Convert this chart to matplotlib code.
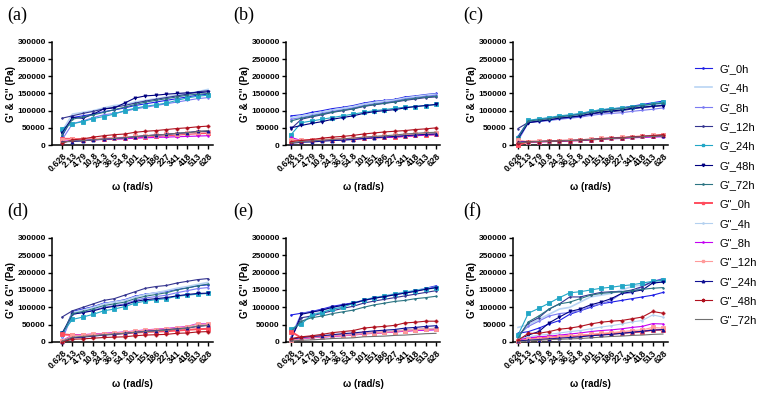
import matplotlib
matplotlib.use("Agg")
import matplotlib.pyplot as plt
from matplotlib.lines import Line2D

omega = ["0.628", "2.13", "4.79", "10.8", "24.3", "36.5", "54.8", "101",
         "151", "186", "227", "341", "418", "513", "628"]
yticks = [0, 50000, 100000, 150000, 200000, 250000, 300000]

series = ["G'_0h", "G'_4h", "G'_8h", "G'_12h", "G'_24h", "G'_48h", "G'_72h",
          'G"_0h', 'G"_4h', 'G"_8h', 'G"_12h', 'G"_24h', 'G"_48h', 'G"_72h']

# panel (a)
A_GP = [
    [25e3, 80e3, 85e3, 90e3, 97e3, 102e3, 108e3, 115e3, 120e3, 125e3, 130e3, 135e3, 140e3, 145e3, 148e3],
    [40e3, 90e3, 95e3, 100e3, 108e3, 115e3, 118e3, 125e3, 130e3, 135e3, 140e3, 145e3, 150e3, 155e3, 162e3],
    [15e3, 62e3, 70e3, 80e3, 88e3, 92e3, 98e3, 105e3, 110e3, 115e3, 120e3, 125e3, 130e3, 135e3, 138e3],
    [78e3, 85e3, 92e3, 98e3, 105e3, 110e3, 115e3, 122e3, 128e3, 133e3, 138e3, 143e3, 148e3, 155e3, 158e3],
    [48e3, 62e3, 68e3, 77e3, 83e3, 90e3, 100e3, 107e3, 113e3, 117e3, 122e3, 130e3, 137e3, 142e3, 145e3],
    [35e3, 80e3, 78e3, 90e3, 105e3, 108e3, 122e3, 137e3, 143e3, 145e3, 148e3, 150e3, 152e3, 152e3, 155e3],
    [30e3, 75e3, 82e3, 88e3, 95e3, 103e3, 110e3, 118e3, 125e3, 130e3, 135e3, 140e3, 145e3, 148e3, 150e3],
]
A_GPP = [
    [18e3, 18e3, 16e3, 17e3, 18e3, 19e3, 20e3, 22e3, 24e3, 26e3, 28e3, 30e3, 32e3, 34e3, 35e3],
    [17e3, 15e3, 16e3, 17e3, 18e3, 20e3, 22e3, 24e3, 26e3, 28e3, 30e3, 32e3, 34e3, 36e3, 38e3],
    [15e3, 14e3, 14e3, 15e3, 16e3, 17e3, 18e3, 20e3, 21e3, 22e3, 23e3, 24e3, 25e3, 26e3, 27e3],
    [15e3, 17e3, 18e3, 19e3, 20e3, 21e3, 23e3, 25e3, 27e3, 29e3, 31e3, 33e3, 35e3, 37e3, 38e3],
    [10e3, 10e3, 12e3, 15e3, 17e3, 19e3, 21e3, 24e3, 27e3, 29e3, 31e3, 34e3, 36e3, 40e3, 40e3],
    [5e3, 15e3, 18e3, 23e3, 27e3, 30e3, 32e3, 37e3, 40e3, 42e3, 45e3, 48e3, 50e3, 53e3, 55e3],
    [8e3, 12e3, 13e3, 15e3, 17e3, 19e3, 21e3, 24e3, 27e3, 29e3, 31e3, 34e3, 36e3, 39e3, 42e3],
]
# panel (b)
B_GP = [
    [85e3, 88e3, 95e3, 100e3, 106e3, 110e3, 115e3, 122e3, 127e3, 130e3, 133e3, 140e3, 143e3, 147e3, 150e3],
    [80e3, 85e3, 90e3, 96e3, 102e3, 107e3, 112e3, 119e3, 124e3, 128e3, 131e3, 137e3, 141e3, 145e3, 148e3],
    [75e3, 80e3, 86e3, 92e3, 98e3, 103e3, 108e3, 115e3, 120e3, 124e3, 128e3, 134e3, 138e3, 142e3, 145e3],
    [47e3, 75e3, 82e3, 88e3, 95e3, 100e3, 105e3, 112e3, 117e3, 121e3, 125e3, 130e3, 134e3, 138e3, 140e3],
    [30e3, 65e3, 70e3, 75e3, 80e3, 85e3, 90e3, 95e3, 100e3, 103e3, 107e3, 110e3, 112e3, 115e3, 118e3],
    [50e3, 57e3, 63e3, 68e3, 75e3, 80e3, 85e3, 92e3, 97e3, 100e3, 103e3, 108e3, 112e3, 115e3, 118e3],
    [70e3, 78e3, 84e3, 90e3, 96e3, 101e3, 106e3, 113e3, 118e3, 122e3, 126e3, 132e3, 136e3, 140e3, 142e3],
]
B_GPP = [
    [12e3, 13e3, 14e3, 15e3, 16e3, 17e3, 18e3, 20e3, 22e3, 23e3, 24e3, 26e3, 28e3, 30e3, 31e3],
    [8e3, 11e3, 12e3, 13e3, 15e3, 16e3, 18e3, 20e3, 22e3, 24e3, 26e3, 28e3, 30e3, 32e3, 34e3],
    [22e3, 13e3, 13e3, 14e3, 15e3, 16e3, 17e3, 19e3, 21e3, 22e3, 23e3, 25e3, 27e3, 29e3, 30e3],
    [15e3, 14e3, 15e3, 16e3, 17e3, 18e3, 20e3, 22e3, 24e3, 26e3, 28e3, 30e3, 32e3, 34e3, 35e3],
    [5e3, 8e3, 9e3, 11e3, 13e3, 14e3, 16e3, 19e3, 21e3, 23e3, 25e3, 27e3, 29e3, 31e3, 32e3],
    [10e3, 13e3, 16e3, 20e3, 23e3, 25e3, 28e3, 32e3, 35e3, 38e3, 40e3, 42e3, 45e3, 47e3, 50e3],
    [6e3, 10e3, 12e3, 14e3, 16e3, 18e3, 20e3, 23e3, 25e3, 27e3, 29e3, 32e3, 34e3, 36e3, 37e3],
]
# panel (c)
C_GP = [
    [25e3, 70e3, 74e3, 78e3, 83e3, 86e3, 90e3, 97e3, 102e3, 105e3, 108e3, 113e3, 118e3, 123e3, 128e3],
    [15e3, 68e3, 72e3, 76e3, 80e3, 83e3, 87e3, 93e3, 97e3, 100e3, 103e3, 108e3, 112e3, 116e3, 120e3],
    [12e3, 65e3, 68e3, 71e3, 75e3, 78e3, 81e3, 86e3, 90e3, 92e3, 94e3, 98e3, 101e3, 104e3, 108e3],
    [48e3, 66e3, 70e3, 74e3, 78e3, 81e3, 84e3, 90e3, 94e3, 97e3, 100e3, 105e3, 109e3, 112e3, 115e3],
    [20e3, 72e3, 76e3, 80e3, 85e3, 88e3, 92e3, 98e3, 103e3, 106e3, 108e3, 112e3, 116e3, 120e3, 125e3],
    [18e3, 65e3, 69e3, 73e3, 78e3, 81e3, 85e3, 91e3, 96e3, 99e3, 102e3, 107e3, 110e3, 113e3, 115e3],
    [22e3, 70e3, 73e3, 77e3, 82e3, 85e3, 89e3, 95e3, 100e3, 103e3, 106e3, 111e3, 115e3, 119e3, 122e3],
]
C_GPP = [
    [0, 10e3, 10e3, 11e3, 12e3, 13e3, 14e3, 16e3, 18e3, 20e3, 21e3, 23e3, 25e3, 27e3, 28e3],
    [10e3, 10e3, 11e3, 12e3, 13e3, 14e3, 15e3, 17e3, 19e3, 20e3, 21e3, 23e3, 25e3, 26e3, 28e3],
    [12e3, 9e3, 9e3, 10e3, 11e3, 12e3, 13e3, 15e3, 17e3, 18e3, 19e3, 21e3, 22e3, 23e3, 24e3],
    [14e3, 10e3, 11e3, 12e3, 13e3, 14e3, 15e3, 17e3, 19e3, 21e3, 22e3, 24e3, 26e3, 28e3, 29e3],
    [8e3, 10e3, 10e3, 11e3, 12e3, 13e3, 14e3, 16e3, 18e3, 20e3, 21e3, 23e3, 25e3, 26e3, 27e3],
    [5e3, 9e3, 10e3, 11e3, 12e3, 13e3, 14e3, 16e3, 18e3, 19e3, 21e3, 23e3, 25e3, 27e3, 30e3],
    [6e3, 9e3, 10e3, 11e3, 12e3, 13e3, 14e3, 16e3, 17e3, 19e3, 20e3, 22e3, 24e3, 25e3, 26e3],
]
# panel (d)
D_GP = [
    [15e3, 88e3, 95e3, 102e3, 112e3, 116e3, 122e3, 132e3, 138e3, 142e3, 146e3, 152e3, 156e3, 162e3, 165e3],
    [10e3, 85e3, 92e3, 100e3, 110e3, 115e3, 120e3, 130e3, 137e3, 142e3, 148e3, 155e3, 160e3, 166e3, 172e3],
    [5e3, 80e3, 85e3, 92e3, 100e3, 105e3, 110e3, 120e3, 127e3, 131e3, 135e3, 142e3, 148e3, 154e3, 157e3],
    [72e3, 90e3, 100e3, 110e3, 120e3, 125e3, 135e3, 145e3, 155e3, 160e3, 163e3, 170e3, 175e3, 180e3, 183e3],
    [25e3, 65e3, 72e3, 80e3, 90e3, 95e3, 102e3, 112e3, 118e3, 122e3, 125e3, 132e3, 135e3, 138e3, 140e3],
    [25e3, 80e3, 85e3, 90e3, 98e3, 103e3, 107e3, 117e3, 122e3, 125e3, 128e3, 133e3, 137e3, 140e3, 141e3],
    [20e3, 82e3, 88e3, 96e3, 105e3, 110e3, 115e3, 125e3, 132e3, 137e3, 142e3, 150e3, 156e3, 162e3, 167e3],
]
D_GPP = [
    [22e3, 20e3, 20e3, 21e3, 23e3, 24e3, 25e3, 27e3, 29e3, 30e3, 31e3, 33e3, 35e3, 37e3, 38e3],
    [5e3, 18e3, 20e3, 22e3, 24e3, 26e3, 28e3, 31e3, 33e3, 35e3, 37e3, 40e3, 43e3, 50e3, 50e3],
    [3e3, 20e3, 21e3, 23e3, 25e3, 27e3, 29e3, 32e3, 35e3, 37e3, 39e3, 42e3, 45e3, 53e3, 52e3],
    [2e3, 19e3, 20e3, 22e3, 24e3, 26e3, 28e3, 31e3, 34e3, 36e3, 38e3, 41e3, 44e3, 52e3, 51e3],
    [0, 12e3, 14e3, 17e3, 20e3, 22e3, 25e3, 28e3, 31e3, 33e3, 35e3, 38e3, 40e3, 45e3, 48e3],
    [0, 8e3, 9e3, 11e3, 13e3, 14e3, 15e3, 18e3, 20e3, 21e3, 22e3, 25e3, 26e3, 29e3, 30e3],
    [2e3, 14e3, 16e3, 18e3, 21e3, 23e3, 25e3, 28e3, 30e3, 32e3, 34e3, 37e3, 40e3, 46e3, 48e3],
]
# panel (e)
E_GP = [
    [78e3, 83e3, 88e3, 95e3, 103e3, 108e3, 113e3, 120e3, 127e3, 132e3, 138e3, 143e3, 148e3, 155e3, 162e3],
    [35e3, 55e3, 80e3, 87e3, 96e3, 102e3, 112e3, 121e3, 128e3, 133e3, 139e3, 144e3, 149e3, 154e3, 158e3],
    [15e3, 83e3, 87e3, 93e3, 100e3, 106e3, 111e3, 119e3, 126e3, 131e3, 136e3, 142e3, 147e3, 153e3, 160e3],
    [10e3, 70e3, 75e3, 83e3, 90e3, 97e3, 103e3, 112e3, 118e3, 123e3, 128e3, 133e3, 138e3, 143e3, 148e3],
    [38e3, 52e3, 78e3, 85e3, 95e3, 100e3, 112e3, 120e3, 128e3, 132e3, 138e3, 143e3, 148e3, 153e3, 155e3],
    [5e3, 80e3, 86e3, 92e3, 100e3, 106e3, 112e3, 120e3, 126e3, 131e3, 136e3, 141e3, 146e3, 152e3, 157e3],
    [30e3, 60e3, 70e3, 75e3, 82e3, 87e3, 92e3, 100e3, 107e3, 112e3, 117e3, 120e3, 125e3, 128e3, 132e3],
]
E_GPP = [
    [30e3, 12e3, 14e3, 16e3, 18e3, 20e3, 22e3, 25e3, 27e3, 28e3, 30e3, 33e3, 35e3, 37e3, 38e3],
    [8e3, 12e3, 14e3, 16e3, 18e3, 20e3, 22e3, 25e3, 27e3, 29e3, 31e3, 34e3, 36e3, 38e3, 40e3],
    [6e3, 10e3, 12e3, 14e3, 16e3, 18e3, 20e3, 23e3, 25e3, 27e3, 29e3, 31e3, 33e3, 34e3, 35e3],
    [5e3, 11e3, 13e3, 15e3, 17e3, 19e3, 21e3, 24e3, 26e3, 28e3, 30e3, 33e3, 35e3, 37e3, 38e3],
    [8e3, 13e3, 16e3, 18e3, 21e3, 24e3, 26e3, 29e3, 32e3, 34e3, 36e3, 40e3, 42e3, 45e3, 47e3],
    [10e3, 15e3, 18e3, 22e3, 27e3, 30e3, 33e3, 40e3, 43e3, 45e3, 48e3, 55e3, 57e3, 60e3, 60e3],
    [3e3, 5e3, 6e3, 8e3, 10e3, 11e3, 12e3, 15e3, 16e3, 17e3, 19e3, 20e3, 22e3, 24e3, 25e3],
]
# panel (f)
F_GP = [
    [25e3, 30e3, 40e3, 52e3, 62e3, 80e3, 90e3, 100e3, 110e3, 115e3, 120e3, 125e3, 130e3, 135e3, 143e3],
    [42e3, 50e3, 65e3, 80e3, 95e3, 100e3, 115e3, 130e3, 135e3, 140e3, 150e3, 160e3, 165e3, 170e3, 175e3],
    [20e3, 45e3, 60e3, 75e3, 82e3, 85e3, 90e3, 103e3, 110e3, 120e3, 140e3, 142e3, 160e3, 175e3, 183e3],
    [15e3, 55e3, 70e3, 95e3, 110e3, 130e3, 130e3, 137e3, 143e3, 145e3, 145e3, 150e3, 160e3, 175e3, 180e3],
    [20e3, 83e3, 97e3, 112e3, 128e3, 142e3, 145e3, 150e3, 155e3, 158e3, 162e3, 165e3, 170e3, 175e3, 178e3],
    [5e3, 20e3, 30e3, 55e3, 72e3, 88e3, 95e3, 107e3, 115e3, 125e3, 140e3, 145e3, 150e3, 170e3, 173e3],
    [10e3, 58e3, 75e3, 95e3, 110e3, 115e3, 125e3, 135e3, 140e3, 143e3, 145e3, 148e3, 152e3, 155e3, 157e3],
]
F_GPP = [
    [2e3, 10e3, 12e3, 13e3, 15e3, 17e3, 18e3, 20e3, 22e3, 24e3, 26e3, 28e3, 30e3, 35e3, 35e3],
    [8e3, 15e3, 20e3, 22e3, 26e3, 30e3, 33e3, 38e3, 43e3, 47e3, 52e3, 58e3, 62e3, 78e3, 72e3],
    [5e3, 12e3, 15e3, 17e3, 20e3, 23e3, 26e3, 30e3, 33e3, 35e3, 38e3, 42e3, 45e3, 53e3, 52e3],
    [3e3, 8e3, 10e3, 12e3, 15e3, 17e3, 20e3, 22e3, 25e3, 27e3, 30e3, 33e3, 35e3, 42e3, 40e3],
    [3e3, 5e3, 7e3, 9e3, 11e3, 13e3, 15e3, 18e3, 20e3, 22e3, 25e3, 28e3, 31e3, 34e3, 36e3],
    [5e3, 25e3, 25e3, 30e3, 37e3, 40e3, 45e3, 52e3, 57e3, 60e3, 62e3, 67e3, 72e3, 88e3, 83e3],
    [0, 3e3, 5e3, 7e3, 8e3, 9e3, 10e3, 12e3, 14e3, 16e3, 17e3, 19e3, 20e3, 22e3, 23e3],
]

colors = ['#1f1fe6', '#b9d4f4', '#7a7af2', '#33338f', '#22a6c6', '#000080', '#2b7482',
          '#ff4d5e', '#b3d0ef', '#c400f2', '#ff9a9a', '#101092', '#b0101e', '#707070']
markers = ['.', None, '.', '.', 's', 'v', '.',
           's', '.', '.', 's', '^', 'P', None]
lwidths = [0.8, 1.2, 0.8, 0.8, 0.8, 0.8, 0.8,
           1.4, 0.8, 0.8, 0.8, 0.8, 0.8, 0.8]

W, H = 774, 396
fig = plt.figure(figsize=(W / 100, H / 100), dpi=100)
FONT = 'Liberation Sans'

panels = [
    ("(a)", A_GP, A_GPP, 52, 62, 208, 213, 42, 145, 7, 15),
    ("(b)", B_GP, B_GPP, 286, 291, 436, 440, 42, 145, 233, 15),
    ("(c)", C_GP, C_GPP, 513, 518, 663, 668, 42, 145, 463, 15),
    ("(d)", D_GP, D_GPP, 52, 62, 208, 213, 238, 342, 7, 211),
    ("(e)", E_GP, E_GPP, 286, 291, 436, 440, 238, 342, 233, 211),
    ("(f)", F_GP, F_GPP, 513, 518, 663, 668, 238, 342, 463, 211),
]

for (lab, gp, gpp, sx, fx, lx, rx, top, zero, labx, laby) in panels:
    ax = fig.add_axes([sx / W, 1 - zero / H, (rx - sx) / W, (zero - top) / H])
    step = (lx - fx) / 14
    ax.set_xlim(-(fx - sx) / step, 14 + (rx - lx) / step)
    ax.set_ylim(0, 300000)
    xs = list(range(len(omega)))
    allser = gp + gpp
    for i, ys in enumerate(allser):
        ax.plot(xs, ys, color=colors[i], lw=lwidths[i], marker=markers[i],
                markersize=2.2, markeredgewidth=0.6, clip_on=False, zorder=3)
    ax.set_xticks(xs)
    ax.set_xticklabels(omega, rotation=45, ha='right', rotation_mode='anchor',
                       fontsize=6.3, fontweight='bold', family=FONT)
    ax.set_yticks(yticks)
    ax.set_yticklabels([str(v) for v in yticks], fontsize=6, fontweight='bold', family=FONT)
    for s in ['top', 'right']:
        ax.spines[s].set_visible(False)
    for s in ['left', 'bottom']:
        ax.spines[s].set_linewidth(1.1)
    ax.tick_params(axis='both', direction='out', length=3, width=1, pad=1.5)
    ax.set_ylabel("G' & G'' (Pa)", fontsize=7, fontweight='bold', family=FONT, labelpad=1)
    ax.set_xlabel("ω (rad/s)", fontsize=7, fontweight='bold', family=FONT, labelpad=6)
    fig.text(labx / W, 1 - laby / H, lab, fontsize=13, family='Liberation Serif',
             ha='left', va='center')

handles = [Line2D([0], [0], color=colors[i], lw=lwidths[i], marker=markers[i],
                  markersize=1.8) for i in range(len(series))]
fig.legend(handles, series, loc='upper left', bbox_to_anchor=(695 / W, 1 - 64 / H),
           frameon=False, handlelength=1.5, labelspacing=0.84,
           handletextpad=0.7, borderpad=0, borderaxespad=0,
           prop={'family': FONT, 'size': 8})

fig.savefig("out.png", dpi=100)
